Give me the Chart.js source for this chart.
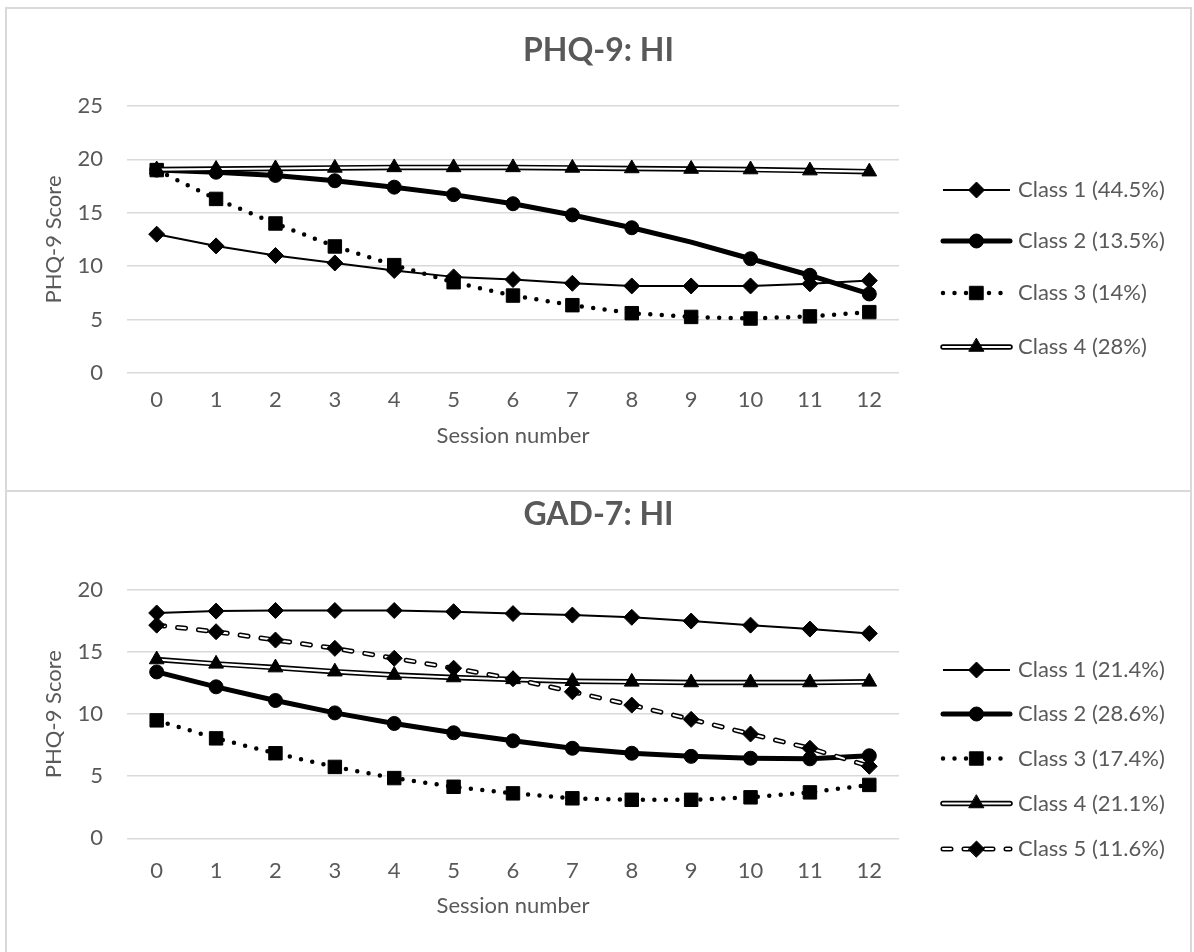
<!DOCTYPE html>
<html><head><meta charset="utf-8">
<script src="https://cdn.jsdelivr.net/npm/chart.js@4.4.1/dist/chart.umd.min.js"></script>
<style>
html,body{margin:0;padding:0;background:#fff;width:1194px;height:952px;overflow:hidden;}
.panel{position:absolute;box-sizing:border-box;border:2px solid #d9d9d9;background:#fff;}
#p1{left:5px;top:7px;width:1187px;height:485px;z-index:2;}
#p2{left:5px;top:490px;width:1187px;height:520px;z-index:1;}
canvas{position:absolute;left:0;top:0;}
</style></head><body>
<div class="panel" id="p1"><canvas id="c1" width="1183" height="481"></canvas></div>
<div class="panel" id="p2"><canvas id="c2" width="1183" height="460"></canvas></div>
<script>
// ---------- data ----------
const sessions = ['0','1','2','3','4','5','6','7','8','9','10','11','12'];
const phqTicks = [0, 5, 10, 15, 20, 25];
const gadTicks = [0, 5, 10, 15, 20];

const phqLabels = ['Class 1 (44.5%)', 'Class 2 (13.5%)', 'Class 3 (14%)', 'Class 4 (28%)'];
const phqClass1 = [13.0, 11.9, 11.0, 10.3, 9.6, 9.0, 8.75, 8.4, 8.15, 8.15, 8.15, 8.35, 8.65];
const phqClass2 = [19.0, 18.8, 18.5, 18.0, 17.4, 16.7, 15.85, 14.8, 13.6, 12.25, 10.7, 9.15, 7.4];
const phqClass3 = [19.0, 16.3, 14.0, 11.85, 10.1, 8.5, 7.25, 6.35, 5.6, 5.25, 5.1, 5.3, 5.7];
const phqClass4 = [19.05, 19.1, 19.15, 19.2, 19.25, 19.25, 19.25, 19.2, 19.15, 19.1, 19.05, 18.95, 18.85];

const gadLabels = ['Class 1 (21.4%)', 'Class 2 (28.6%)', 'Class 3 (17.4%)', 'Class 4 (21.1%)', 'Class 5 (11.6%)'];
const gadClass1 = [18.15, 18.3, 18.35, 18.35, 18.35, 18.25, 18.1, 17.98, 17.8, 17.5, 17.17, 16.85, 16.5];
const gadClass2 = [13.4, 12.2, 11.1, 10.1, 9.25, 8.5, 7.85, 7.25, 6.85, 6.6, 6.45, 6.4, 6.65];
const gadClass3 = [9.5, 8.05, 6.85, 5.75, 4.85, 4.15, 3.62, 3.22, 3.1, 3.1, 3.3, 3.7, 4.3];
const gadClass4 = [14.4, 14.05, 13.75, 13.42, 13.15, 12.95, 12.8, 12.65, 12.6, 12.55, 12.55, 12.55, 12.6];
const gadClass5 = [17.17, 16.64, 15.97, 15.3, 14.5, 13.7, 12.85, 11.8, 10.73, 9.58, 8.4, 7.25, 5.8];

// ---------- styles ----------
const FONT = 'Lato, "Open Sans", sans-serif';
const FS = 22;
const TXT = '#595959';
const GRID = '#d9d9d9';
const STY = {
  c1: { lines: [{w: 2, c: '#000', dash: [], cap: 'butt'}], point: 'rectRot', r: 8 },
  c2: { lines: [{w: 5, c: '#000', dash: [], cap: 'round'}], point: 'circle', r: 7 },
  c3: { lines: [{w: 4.5, c: '#000', dash: [0, 11.5], cap: 'round'}], point: 'rect', r: 9.5 },
  c4: { lines: [{w: 5.5, c: '#000', dash: [], cap: 'round'}, {w: 2.2, c: '#fff', dash: [], cap: 'round'}], point: 'triangle', r: 8.5 },
  c5: { lines: [{w: 5, c: '#000', dash: [8, 13], cap: 'round'}, {w: 2, c: '#fff', dash: [8, 13], cap: 'round'}], point: 'rectRot', r: 8 }
};

function buildDatasets(series) {
  const out = [];
  let order = 100;
  series.forEach(s => {
    s.style.lines.forEach(l => {
      out.push({
        label: s.label, data: s.data, borderColor: l.c, borderWidth: l.w,
        borderDash: l.dash, borderCapStyle: l.cap, borderJoinStyle: 'round',
        pointRadius: 0, pointHoverRadius: 0, tension: 0, fill: false, order: order--
      });
    });
    out.push({
      label: s.label, data: s.data, showLine: false, pointStyle: s.style.point,
      pointRadius: s.radii || s.style.r, pointHoverRadius: s.radii || s.style.r,
      pointBackgroundColor: '#000', pointBorderColor: '#000', pointBorderWidth: 1,
      order: order--
    });
  });
  return out;
}

function ownPoint(ctx, style, r, x, y) {
  ctx.beginPath();
  if (style === 'circle') ctx.arc(x, y, r, 0, Math.PI * 2);
  else if (style === 'rect') { const s = r * Math.SQRT1_2; ctx.rect(x - s, y - s, 2 * s, 2 * s); }
  else if (style === 'rectRot') { ctx.moveTo(x, y - r); ctx.lineTo(x + r, y); ctx.lineTo(x, y + r); ctx.lineTo(x - r, y); ctx.closePath(); }
  else if (style === 'triangle') { ctx.moveTo(x, y - r); ctx.lineTo(x + r * 0.866, y + r / 2); ctx.lineTo(x - r * 0.866, y + r / 2); ctx.closePath(); }
  ctx.fill(); ctx.stroke();
}

const sideLegend = {
  id: 'sideLegend',
  afterDraw(chart, args, o) {
    const ctx = chart.ctx;
    ctx.save();
    o.items.forEach((it, i) => {
      const y = o.rows[i];
      it.style.lines.forEach(l => {
        ctx.beginPath();
        ctx.lineWidth = l.w; ctx.strokeStyle = l.c; ctx.setLineDash(l.dash); ctx.lineCap = l.cap;
        ctx.moveTo(o.x1, y); ctx.lineTo(o.x2, y); ctx.stroke();
      });
      ctx.setLineDash([]);
      ctx.fillStyle = '#000'; ctx.strokeStyle = '#000'; ctx.lineWidth = 1;
      if (Chart.helpers && Chart.helpers.drawPoint) {
        Chart.helpers.drawPoint(ctx, {pointStyle: it.style.point, radius: it.style.r, rotation: 0, borderWidth: 1}, o.xm, y);
      } else {
        ownPoint(ctx, it.style.point, it.style.r, o.xm, y);
      }
      ctx.fillStyle = TXT; ctx.font = FS + 'px ' + FONT; ctx.textBaseline = 'middle'; ctx.textAlign = 'left';
      ctx.fillText(it.label, o.xt, y);
    });
    ctx.restore();
  }
};

function makeChart(id, cfg) {
  const maxV = cfg.ticks[cfg.ticks.length - 1];
  return new Chart(document.getElementById(id), {
    type: 'line',
    data: { labels: sessions, datasets: buildDatasets(cfg.series) },
    options: {
      responsive: false, animation: false, devicePixelRatio: 1, events: [],
      layout: { padding: 0 },
      plugins: {
        legend: { display: false }, tooltip: { enabled: false },
        title: { display: true, text: cfg.title, color: TXT,
          font: { family: FONT, size: 32, weight: 'bold', lineHeight: 1.2 },
          padding: { top: cfg.tPadTop, bottom: cfg.tPadBottom } },
        sideLegend: {
          items: cfg.series.map(s => ({label: s.label, style: s.style})),
          rows: cfg.legendRows, x1: 936, x2: 1003, xm: 969.5, xt: 1011
        }
      },
      scales: {
        x: {
          type: 'category', offset: true,
          grid: { display: false }, border: { display: false },
          ticks: { color: TXT, font: { family: FONT, size: FS }, padding: cfg.xTickPad, maxRotation: 0, autoSkip: false },
          title: { display: true, text: 'Session number', color: TXT, font: { family: FONT, size: FS, lineHeight: 1.2 }, padding: { top: 0, bottom: cfg.xTitlePad } },
          afterFit: s => { s.height = cfg.xHeight; }
        },
        y: {
          type: 'linear', position: 'left', min: 0, max: maxV,
          grid: { color: GRID, lineWidth: 1.5, drawTicks: false }, border: { display: false },
          ticks: { color: TXT, font: { family: FONT, size: FS }, padding: 24, stepSize: 5 },
          afterBuildTicks: s => { s.ticks = cfg.ticks.map(v => ({ value: v })); },
          title: { display: true, text: 'PHQ-9 Score', color: TXT, font: { family: FONT, size: FS, lineHeight: 1.2 }, padding: { top: 34, bottom: 0 } },
          afterFit: s => { s.width = 120; }
        },
        yR: {
          type: 'linear', position: 'right', display: true,
          grid: { display: false }, border: { display: false }, ticks: { display: false },
          afterFit: s => { s.width = 291; }
        }
      }
    },
    plugins: [sideLegend]
  });
}

makeChart('c1', {
  title: 'PHQ-9: HI', ticks: phqTicks,
  tPadTop: 22.8, tPadBottom: 35.8,
  xTickPad: 5.5, xTitlePad: 40.8, xHeight: 117,
  legendRows: [181, 232, 284, 338],
  series: [
    { label: phqLabels[0], data: phqClass1, style: STY.c1 },
    { label: phqLabels[1], data: phqClass2, style: STY.c2, radii: [7,7,7,7,7,7,7,7,7,0,7,7,7] },
    { label: phqLabels[2], data: phqClass3, style: STY.c3 },
    { label: phqLabels[3], data: phqClass4, style: STY.c4 }
  ]
});

makeChart('c2', {
  title: 'GAD-7: HI', ticks: gadTicks,
  tPadTop: 3.8, tPadBottom: 55.8,
  xTickPad: 11.5, xTitlePad: 32.8, xHeight: 113.7,
  legendRows: [178, 222, 266.5, 311.5, 357],
  series: [
    { label: gadLabels[0], data: gadClass1, style: STY.c1 },
    { label: gadLabels[1], data: gadClass2, style: STY.c2 },
    { label: gadLabels[2], data: gadClass3, style: STY.c3 },
    { label: gadLabels[3], data: gadClass4, style: STY.c4 },
    { label: gadLabels[4], data: gadClass5, style: STY.c5 }
  ]
});
</script>
</body></html>
